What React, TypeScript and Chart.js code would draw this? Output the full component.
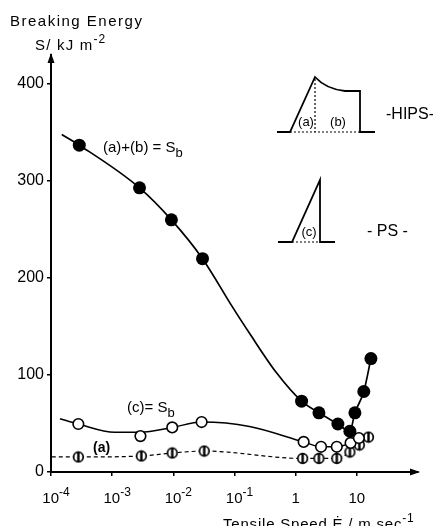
import React, { useEffect, useRef } from "react";
import { Chart, registerables } from "chart.js";
Chart.register(...registerables);

// ---- data ----
// HIPS, S_b = (a)+(b) (filled circles)
const sbSpeeds = [2.9e-4, 2.8e-3, 9.3e-3, 0.03, 1.25, 2.4, 4.9, 7.7, 9.3, 13, 17];
const sbValues = [337, 293, 260, 220, 73, 61, 49.5, 42, 61, 83, 117];
// fitted curve through S_b
const sbCurveSpeeds = [1.5e-4, 2.9e-4, 2.8e-3, 9.3e-3, 0.03, 0.093, 0.176, 0.49, 1.25, 2.4, 4.9, 7.7, 9.3, 13, 17];
const sbCurveValues = [348, 337, 293, 260, 220, 170, 143, 102, 73, 61, 49.5, 42, 61, 83, 117];
// PS, (c) = S_b (open circles)
const psSpeeds = [2.8e-4, 2.9e-3, 9.6e-3, 0.029, 1.35, 2.6, 4.7, 7.9, 10.8];
const psValues = [49.5, 37, 46, 51.5, 31, 26, 26, 30, 35];
const psCurveSpeeds = [1.4e-4, 2.8e-4, 1.1e-3, 2.9e-3, 9.6e-3, 0.029, 0.176, 1.35, 2.6, 4.7, 7.9, 10.8];
const psCurveValues = [55, 49.5, 41, 41, 46, 51.5, 47, 31, 26, 26, 30, 35];
// HIPS, part (a) (barred circles, dashed line)
const aSpeeds = [2.8e-4, 3e-3, 9.6e-3, 0.032, 1.3, 2.4, 4.7, 7.7, 11, 15.5];
const aValues = [15.5, 16.5, 19.6, 21.6, 14, 14, 14, 20.6, 27.8, 36];
const aCurveSpeeds = [1.03e-4, 2.8e-4, 3e-3, 9.6e-3, 0.032, 1.3, 2.4, 4.7, 7.7, 11, 15.5];
const aCurveValues = [15.5, 15.5, 16.5, 19.6, 21.6, 14, 14, 14, 20.6, 27.8, 36];

// ticks
const xTickValues = [1e-4, 1e-3, 1e-2, 1e-1, 1, 10];
const xTickBases = ["10", "10", "10", "10", "1", "10"];
const xTickExps = ["-4", "-3", "-2", "-1", "", ""];
const yTickValues = [0, 100, 200, 300, 400];

const FONT = "'Liberation Sans', Arial, sans-serif";

const pts = (xs: number[], ys: number[]) => xs.map((x, i) => ({ x, y: ys[i] }));

function makeBarCircle() {
  const c = document.createElement("canvas");
  c.width = 13;
  c.height = 13;
  const ctx = c.getContext("2d")!;
  ctx.fillStyle = "#fff";
  ctx.strokeStyle = "#000";
  ctx.lineWidth = 1.7;
  ctx.beginPath();
  ctx.arc(6.5, 6.5, 4.8, 0, Math.PI * 2);
  ctx.fill();
  ctx.stroke();
  ctx.lineWidth = 2.4;
  ctx.beginPath();
  ctx.moveTo(6.5, 1.5);
  ctx.lineTo(6.5, 11.5);
  ctx.stroke();
  return c;
}

function setSpacing(ctx: any, px: number) {
  if ("letterSpacing" in ctx) ctx.letterSpacing = `${px}px`;
}

function drawSup(
  ctx: CanvasRenderingContext2D,
  x: number,
  y: number,
  base: string,
  sup: string,
  bs: number,
  ss: number,
  align: "left" | "center",
  spacing = 0
) {
  setSpacing(ctx, spacing);
  ctx.font = `${bs}px ${FONT}`;
  const bw = ctx.measureText(base).width;
  ctx.font = `${ss}px ${FONT}`;
  const sw = sup ? ctx.measureText(sup).width : 0;
  const total = bw + sw;
  const x0 = align === "center" ? x - total / 2 : x;
  ctx.textAlign = "left";
  ctx.textBaseline = "alphabetic";
  ctx.font = `${bs}px ${FONT}`;
  ctx.fillText(base, x0, y);
  if (sup) {
    ctx.font = `${ss}px ${FONT}`;
    ctx.fillText(sup, x0 + bw, y - bs * 0.45);
  }
  setSpacing(ctx, 0);
}

const decorPlugin = {
  id: "decor",
  afterDraw(chart: any) {
    const ctx: CanvasRenderingContext2D = chart.ctx;
    const area = chart.chartArea;
    const xs = chart.scales.x;
    ctx.save();
    ctx.fillStyle = "#000";
    ctx.strokeStyle = "#000";

    // axis arrows
    ctx.beginPath();
    ctx.moveTo(area.left, area.top - 2);
    ctx.lineTo(area.left - 3.5, area.top + 8);
    ctx.lineTo(area.left + 3.5, area.top + 8);
    ctx.closePath();
    ctx.fill();
    ctx.beginPath();
    ctx.moveTo(area.right + 2, area.bottom);
    ctx.lineTo(area.right - 8, area.bottom - 3.5);
    ctx.lineTo(area.right - 8, area.bottom + 3.5);
    ctx.closePath();
    ctx.fill();

    // x tick labels
    xTickValues.forEach((v, i) => {
      const px = xs.getPixelForValue(v) + (xTickExps[i] ? 5 : 0);
      drawSup(ctx, px, area.bottom + 31, xTickBases[i], xTickExps[i], 15, 12, "center");
    });

    // axis titles
    setSpacing(ctx, 1.5);
    ctx.font = `15px ${FONT}`;
    ctx.textAlign = "left";
    ctx.textBaseline = "alphabetic";
    ctx.fillText("Breaking Energy", 10, 26);
    setSpacing(ctx, 0);
    drawSup(ctx, 35, 50, "S/ kJ m", "-2", 15, 12, "left", 1.2);
    drawSup(ctx, 223, 529, "Tensile Speed Ė / m sec", "-1", 15, 12, "left", 0.8);

    // curve labels
    ctx.font = `15px ${FONT}`;
    ctx.fillText("(a)+(b) = S", 103, 152);
    let w = ctx.measureText("(a)+(b) = S").width;
    ctx.font = `13px ${FONT}`;
    ctx.fillText("b", 103 + w, 157);
    ctx.font = `15px ${FONT}`;
    ctx.fillText("(c)= S", 127, 412);
    w = ctx.measureText("(c)= S").width;
    ctx.font = `13px ${FONT}`;
    ctx.fillText("b", 127 + w, 417);
    ctx.font = `bold 14px ${FONT}`;
    ctx.fillText("(a)", 93, 452);

    // HIPS inset
    ctx.lineWidth = 1.8;
    ctx.setLineDash([]);
    ctx.beginPath();
    ctx.moveTo(277, 132);
    ctx.lineTo(290, 132);
    ctx.lineTo(315, 77);
    ctx.quadraticCurveTo(326, 89, 345, 91);
    ctx.lineTo(360, 91);
    ctx.lineTo(360, 132);
    ctx.lineTo(375, 132);
    ctx.stroke();
    ctx.lineWidth = 1.2;
    ctx.setLineDash([2, 2]);
    ctx.beginPath();
    ctx.moveTo(315, 79);
    ctx.lineTo(315, 132);
    ctx.moveTo(290, 132);
    ctx.lineTo(360, 132);
    ctx.stroke();
    ctx.setLineDash([]);
    ctx.font = `13px ${FONT}`;
    ctx.textAlign = "center";
    ctx.textBaseline = "middle";
    ctx.fillText("(a)", 306, 122);
    ctx.fillText("(b)", 338, 122);
    ctx.font = `16px ${FONT}`;
    ctx.textAlign = "left";
    ctx.fillText("-HIPS-", 386, 115);

    // PS inset
    ctx.lineWidth = 1.8;
    ctx.beginPath();
    ctx.moveTo(278, 242);
    ctx.lineTo(292, 242);
    ctx.lineTo(320, 180);
    ctx.lineTo(320, 242);
    ctx.lineTo(335, 242);
    ctx.stroke();
    ctx.lineWidth = 1.2;
    ctx.setLineDash([2, 2]);
    ctx.beginPath();
    ctx.moveTo(292, 242);
    ctx.lineTo(320, 242);
    ctx.stroke();
    ctx.setLineDash([]);
    ctx.font = `13px ${FONT}`;
    ctx.textAlign = "center";
    ctx.fillText("(c)", 309, 232);
    ctx.font = `16px ${FONT}`;
    ctx.textAlign = "left";
    ctx.fillText("- PS -", 367, 232);

    ctx.restore();
  },
};

export default function App() {
  const ref = useRef<HTMLCanvasElement | null>(null);
  useEffect(() => {
    if (!ref.current) return;
    const barCircle = makeBarCircle();
    const chart = new Chart(ref.current, {
      type: "line",
      data: {
        datasets: [
          {
            label: "Sb HIPS points",
            data: pts(sbSpeeds, sbValues),
            showLine: false,
            pointRadius: 6.5,
            pointBackgroundColor: "#000",
            pointBorderColor: "#000",
            pointBorderWidth: 0,
          },
          {
            label: "PS points",
            data: pts(psSpeeds, psValues),
            showLine: false,
            pointRadius: 5.3,
            pointBackgroundColor: "#fff",
            pointBorderColor: "#000",
            pointBorderWidth: 1.6,
          },
          {
            label: "(a) points",
            data: pts(aSpeeds, aValues),
            showLine: false,
            pointStyle: barCircle as any,
            pointRadius: 6,
          },
          {
            label: "Sb HIPS curve",
            data: pts(sbCurveSpeeds, sbCurveValues),
            borderColor: "#000",
            borderWidth: 1.7,
            pointRadius: 0,
            cubicInterpolationMode: "monotone",
            fill: false,
          },
          {
            label: "PS curve",
            data: pts(psCurveSpeeds, psCurveValues),
            borderColor: "#000",
            borderWidth: 1.5,
            pointRadius: 0,
            cubicInterpolationMode: "monotone",
            fill: false,
          },
          {
            label: "(a) curve",
            data: pts(aCurveSpeeds, aCurveValues),
            borderColor: "#000",
            borderWidth: 1.2,
            borderDash: [4, 3],
            pointRadius: 0,
            cubicInterpolationMode: "monotone",
            fill: false,
          },
        ],
      },
      options: {
        animation: false,
        responsive: false,
        maintainAspectRatio: false,
        layout: { padding: { top: 55, right: 15, bottom: 0, left: 0 } },
        plugins: { legend: { display: false }, tooltip: { enabled: false } },
        scales: {
          x: {
            type: "logarithmic",
            min: 1e-4,
            max: 100,
            afterBuildTicks: (s: any) => {
              s.ticks = xTickValues.map((v) => ({ value: v }));
            },
            afterFit: (s: any) => {
              s.height = 54;
            },
            ticks: { display: false },
            grid: { drawOnChartArea: false, tickLength: 4, color: "#000", lineWidth: 1.5 },
            border: { color: "#000", width: 2 },
          },
          y: {
            type: "linear",
            min: 0,
            max: 430,
            afterBuildTicks: (s: any) => {
              s.ticks = yTickValues.map((v) => ({ value: v }));
            },
            afterFit: (s: any) => {
              s.width = 51;
            },
            ticks: { color: "#000", font: { family: FONT, size: 16 }, padding: 3 },
            grid: { drawOnChartArea: false, tickLength: 4, color: "#000", lineWidth: 1.5 },
            border: { color: "#000", width: 2 },
          },
        },
      },
      plugins: [decorPlugin],
    } as any);
    return () => chart.destroy();
  }, []);
  return (
    <div style={{ position: "fixed", left: 0, top: 0, width: 433, height: 526, background: "#fff" }}>
      <canvas ref={ref} width={433} height={526} style={{ display: "block" }} />
    </div>
  );
}
